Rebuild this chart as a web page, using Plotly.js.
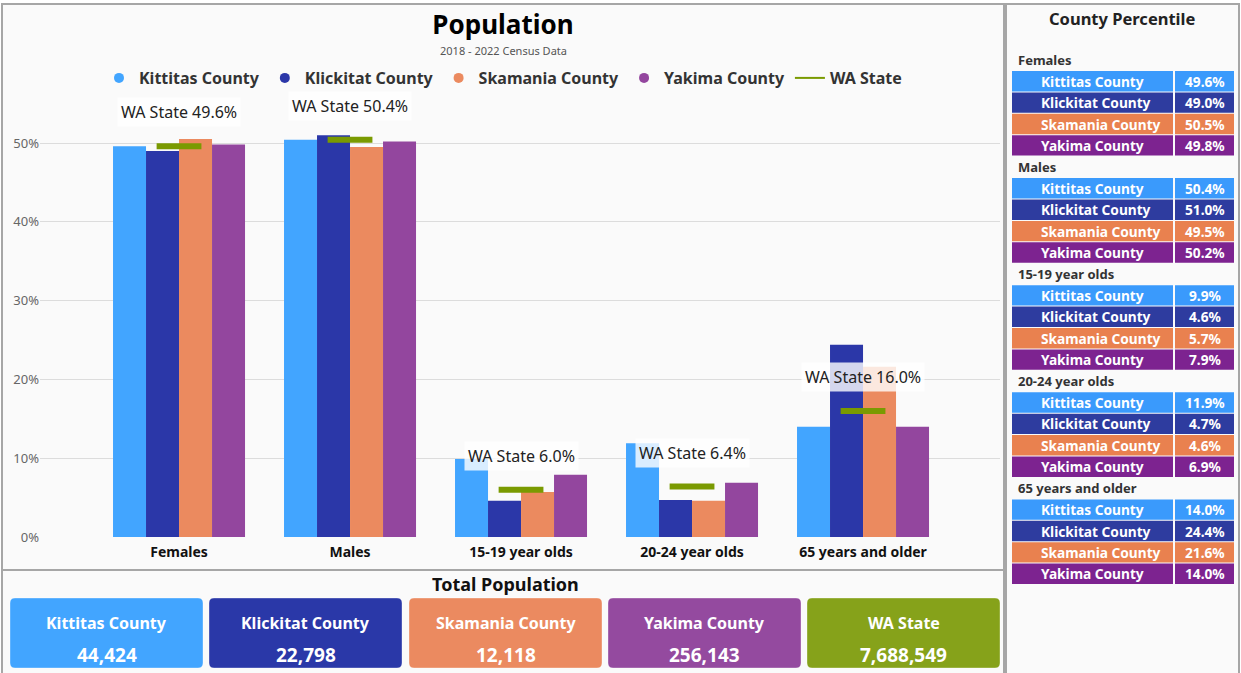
<!DOCTYPE html>
<html>
<head>
<meta charset="utf-8">
<script src="https://cdn.plot.ly/plotly-3.0.1.min.js"></script>
<style>
  html, body { margin: 0; padding: 0; background: #ffffff; }
  #chart { width: 1241px; height: 673px; }
</style>
</head>
<body>
<div id="chart"></div>
<script>
// ---------------- data ----------------
const categories = ['Females', 'Males', '15-19 year olds', '20-24 year olds', '65 years and older'];
const counties = ['Kittitas County', 'Klickitat County', 'Skamania County', 'Yakima County'];
const kittitas  = [49.6, 50.4, 9.9, 11.9, 14.0];
const klickitat = [49.0, 51.0, 4.6, 4.7, 24.4];
const skamania  = [50.5, 49.5, 5.7, 4.6, 21.6];
const yakima    = [49.8, 50.2, 7.9, 6.9, 14.0];
const waState   = [49.6, 50.4, 6.0, 6.4, 16.0];
const stateName = 'WA State';
const totalNames = ['Kittitas County', 'Klickitat County', 'Skamania County', 'Yakima County', 'WA State'];
const totalPopulation = [44424, 22798, 12118, 256143, 7688549];
const yTickVals = [0, 10, 20, 30, 40, 50];
const yTickText = ['0%', '10%', '20%', '30%', '40%', '50%'];

// ---------------- styling ----------------
const W = 1241, H = 673;
const FONT = 'Noto Sans, Open Sans, sans-serif';
const barColors = ['#42a5ff', '#2b37a8', '#eb8a5f', '#93469e'];
const tableColors = ['#3a9afc', '#2e3c9f', '#e9814f', '#7d2390'];
const cardColors = ['#42a5ff', '#2a38a8', '#eb8a60', '#944a9f', '#86a21a'];
const stateColor = '#7a9a01';
const px = x => x / W;
const py = y => 1 - y / H;

const seriesValues = [kittitas, klickitat, skamania, yakima];

const traces = [];
seriesValues.forEach((vals, i) => {
  traces.push({
    type: 'bar', name: counties[i], x: categories, y: vals,
    marker: { color: barColors[i] }, showlegend: false,
    hoverinfo: 'x+y+name'
  });
});
traces.push({
  type: 'scatter', mode: 'markers', name: stateName, x: categories, y: waState,
  marker: { symbol: 'line-ew', size: 32, color: stateColor, line: { color: stateColor, width: 6 } },
  showlegend: false
});
// legend entries (circle symbols + line for state)
counties.forEach((c, i) => {
  traces.push({
    type: 'scatter', mode: 'markers', name: c, x: [null], y: [null],
    marker: { symbol: 'circle', size: 10, color: barColors[i] }, showlegend: true, hoverinfo: 'skip'
  });
});
traces.push({
  type: 'scatter', mode: 'lines', name: stateName, x: [null], y: [null],
  line: { color: stateColor, width: 2 }, showlegend: true, hoverinfo: 'skip'
});

const annotations = [];
const shapes = [];

// WA State labels
categories.forEach((c, i) => {
  annotations.push({
    x: c, y: waState[i], xref: 'x', yref: 'y', yshift: 34, showarrow: false,
    text: stateName + ' ' + waState[i].toFixed(1) + '%',
    font: { family: FONT, size: 16, color: '#222' },
    bgcolor: 'rgba(255,255,255,0.8)', borderpad: 3
  });
});

// subtitle
annotations.push({
  x: px(503), y: py(51), xref: 'paper', yref: 'paper', showarrow: false,
  xanchor: 'center', yanchor: 'middle', text: '2018 - 2022 Census Data',
  font: { family: FONT, size: 11, color: '#555' }
});

// panel backgrounds / borders
const panelLine = { color: '#a6a6a6', width: 2 };
shapes.push({ type: 'rect', xref: 'paper', yref: 'paper', x0: px(2), x1: px(1004), y0: py(570), y1: py(4), fillcolor: '#fafafa', line: panelLine, layer: 'below' });
shapes.push({ type: 'rect', xref: 'paper', yref: 'paper', x0: px(2), x1: px(1004), y0: py(680), y1: py(570), fillcolor: '#fafafa', line: panelLine, layer: 'below' });
shapes.push({ type: 'rect', xref: 'paper', yref: 'paper', x0: px(1006), x1: px(1239), y0: py(680), y1: py(4), fillcolor: '#fafafa', line: panelLine, layer: 'below' });

// Total Population cards
annotations.push({
  x: px(505), y: py(584), xref: 'paper', yref: 'paper', showarrow: false,
  xanchor: 'center', yanchor: 'middle', text: '<b>Total Population</b>',
  font: { family: FONT, size: 18, color: '#111' }
});
const cardLeft = [10, 209, 409, 608, 807];
const cardW = 193, cardTop = 598, cardBot = 668, rad = 5;
totalNames.forEach((n, i) => {
  const l = px(cardLeft[i]), r = px(cardLeft[i] + cardW), t = py(cardTop), b = py(cardBot);
  const rx = rad / W, ry = rad / H;
  const path = `M ${l + rx},${t} H ${r - rx} Q ${r},${t} ${r},${t - ry} V ${b + ry} Q ${r},${b} ${r - rx},${b} H ${l + rx} Q ${l},${b} ${l},${b + ry} V ${t - ry} Q ${l},${t} ${l + rx},${t} Z`;
  shapes.push({ type: 'path', xref: 'paper', yref: 'paper', path: path, fillcolor: cardColors[i], line: { color: 'rgba(255,255,255,0.35)', width: 1 }, layer: 'above' });
  const cx = px(cardLeft[i] + cardW / 2);
  annotations.push({ x: cx, y: py(623), xref: 'paper', yref: 'paper', showarrow: false, xanchor: 'center', yanchor: 'middle',
    text: '<b>' + n + '</b>', font: { family: FONT, size: 16, color: '#fff' } });
  annotations.push({ x: cx, y: py(655), xref: 'paper', yref: 'paper', showarrow: false, xanchor: 'center', yanchor: 'middle',
    text: '<b>' + totalPopulation[i].toLocaleString('en-US') + '</b>', font: { family: FONT, size: 19, color: '#fff' } });
});

// County Percentile table
annotations.push({
  x: px(1122), y: py(18), xref: 'paper', yref: 'paper', showarrow: false, xanchor: 'center', yanchor: 'middle',
  text: '<b>County Percentile</b>', font: { family: FONT, size: 16.5, color: '#222' }
});
const sectionPitch = 107.1, rowH = 21.4;
categories.forEach((c, k) => {
  const hy = 60 + sectionPitch * k;
  annotations.push({ x: px(1016), y: py(hy), xref: 'paper', yref: 'paper', showarrow: false, xanchor: 'left', yanchor: 'middle',
    text: '<b>' + c + '</b>', font: { family: FONT, size: 13, color: '#333' } });
  seriesValues.forEach((vals, i) => {
    const top = hy + 11 + i * rowH, bot = top + rowH - 1;
    shapes.push({ type: 'rect', xref: 'paper', yref: 'paper', x0: px(1012), x1: px(1173), y0: py(bot), y1: py(top),
      fillcolor: tableColors[i], line: { width: 0 }, layer: 'above' });
    shapes.push({ type: 'rect', xref: 'paper', yref: 'paper', x0: px(1175), x1: px(1234), y0: py(bot), y1: py(top),
      fillcolor: tableColors[i], line: { width: 0 }, layer: 'above' });
    const cy = py((top + bot) / 2);
    annotations.push({ x: px(1039), y: cy, xref: 'paper', yref: 'paper', showarrow: false, xanchor: 'left', yanchor: 'middle',
      text: '<b>' + counties[i] + '</b>', font: { family: FONT, size: 13.7, color: '#fff' } });
    annotations.push({ x: px(1204.5), y: cy, xref: 'paper', yref: 'paper', showarrow: false, xanchor: 'center', yanchor: 'middle',
      text: '<b>' + vals[k].toFixed(1) + '%</b>', font: { family: FONT, size: 13.7, color: '#fff' } });
  });
});

const layout = {
  width: W, height: H, autosize: false,
  margin: { l: 0, r: 0, t: 0, b: 0 },
  paper_bgcolor: '#ffffff', plot_bgcolor: 'rgba(0,0,0,0)',
  font: { family: FONT, color: '#333' },
  title: {
    text: 'Population', x: px(503), xref: 'paper', xanchor: 'center', y: py(25), yref: 'paper', yanchor: 'middle',
    font: { family: FONT, size: 26, color: '#000', weight: 'bold' }
  },
  barmode: 'group', bargap: 0.228, bargroupgap: 0,
  xaxis: {
    domain: [px(40), px(1000)], range: [-0.813, 4.801], type: 'category',
    tickfont: { family: FONT, size: 14, color: '#111', weight: 'bold' }, ticklabelstandoff: 5,
    showgrid: false, zeroline: false, showline: false, ticks: '', fixedrange: true
  },
  yaxis: {
    domain: [py(537), py(100)], range: [0, 55.46],
    tickmode: 'array', tickvals: yTickVals, ticktext: yTickText, tickfont: { family: FONT, size: 13, color: '#666' },
    showgrid: true, gridcolor: '#dcdcdc', gridwidth: 1, zeroline: false, showline: false, ticks: '', fixedrange: true
  },
  legend: {
    orientation: 'h', x: px(503), xref: 'paper', xanchor: 'center', y: py(78), yref: 'paper', yanchor: 'middle',
    font: { family: FONT, size: 16, color: '#333', weight: 'bold' }, bgcolor: 'rgba(0,0,0,0)', itemwidth: 30,
    traceorder: 'normal'
  },
  annotations: annotations,
  shapes: shapes,
  showlegend: true
};

Plotly.newPlot('chart', traces, layout, { displayModeBar: false, staticPlot: true });
</script>
</body>
</html>
